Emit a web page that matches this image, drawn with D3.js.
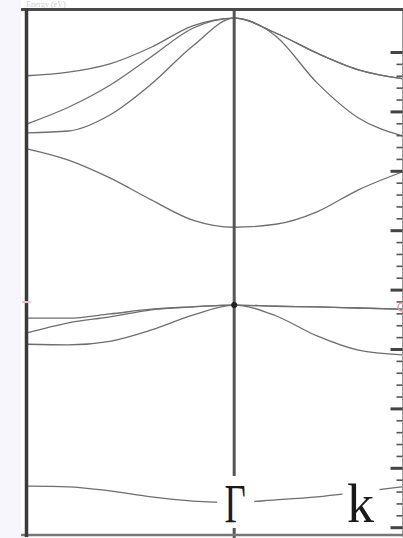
<!DOCTYPE html>
<html>
<head>
<meta charset="utf-8">
<script src="https://cdn.jsdelivr.net/npm/d3@7"></script>
<style>
  html, body { margin: 0; padding: 0; background: #fff; }
  svg { display: block; }
</style>
</head>
<body>
<svg width="403" height="538"></svg>
<script>
// k path: left point (-1) -> Gamma (0) -> k (0.81)
const kPoints = [-1, -0.8, -0.6, -0.4, -0.2, 0, 0.2, 0.4, 0.6, 0.81];

// band energies (eV) at each kPoint
const bandA = [3.60, 3.66, 3.80, 4.08, 4.44, 4.57, 4.32, 3.98, 3.70, 3.55];
const bandB = [2.79, 3.07, 3.44, 3.92, 4.40, 4.57, 4.27, 3.48, 2.89, 2.59];
const bandC = [2.64, 2.67, 2.94, 3.46, 4.10, 4.57, 4.32, 3.98, 3.70, 3.55];
const bandD = [2.37, 2.18, 1.88, 1.51, 1.17, 1.05, 1.10, 1.31, 1.68, 1.98];
const bandM1 = [-0.48, -0.48, -0.41, -0.33, -0.29, -0.26, -0.28, -0.29, -0.31, -0.33];
const bandM2 = [-0.73, -0.56, -0.46, -0.34, -0.29, -0.26, -0.28, -0.29, -0.31, -0.33];
const bandM3 = [-0.92, -0.93, -0.87, -0.68, -0.43, -0.26, -0.44, -0.78, -1.02, -1.10];
const bandL = [-3.31, -3.32, -3.39, -3.49, -3.56, -3.58, -3.54, -3.49, -3.41, -3.32];

const bands = [bandA, bandB, bandC, bandD, bandM1, bandM2, bandM3, bandL];

const kLabels = ["Γ", "k"];
const kLabelPos = [0, 0.6];
const fermiLevel = -0.26;

const svg = d3.select("svg");

const x = d3.scaleLinear().domain([-1, 0.81]).range([27, 402]);
const y = d3.scaleLinear().domain([4, -4]).range([52, 527.2]);

// page strip on the left
svg.append("rect").attr("x", 0).attr("y", 0).attr("width", 21).attr("height", 538).attr("fill", "#f6f6fc");

// faint title above the frame
svg.append("text")
  .attr("x", 26).attr("y", 7)
  .attr("font-family", "Liberation Serif").attr("font-size", 8)
  .attr("fill", "#cfcfcf")
  .text("Energy (eV)");

// bands
const line = d3.line()
  .x((d, i) => x(kPoints[i]))
  .y((d) => y(d))
  .curve(d3.curveMonotoneX);

svg.append("g")
  .selectAll("path")
  .data(bands)
  .join("path")
  .attr("d", line)
  .attr("fill", "none")
  .attr("stroke", "#6e6e6e")
  .attr("stroke-width", 1.3);

// Gamma vertical line
svg.append("line")
  .attr("x1", x(0)).attr("x2", x(0))
  .attr("y1", 8).attr("y2", 538)
  .attr("stroke", "#555").attr("stroke-width", 3);

// right axis with inward ticks
const rightAxis = svg.append("g").attr("transform", "translate(402.5,0)");
rightAxis.append("line")
  .attr("x1", 0).attr("x2", 0).attr("y1", 8).attr("y2", 537)
  .attr("stroke", "#999").attr("stroke-width", 1);
rightAxis.append("g")
  .call(d3.axisLeft(y).tickValues(d3.range(-4, 4.01, 0.2)).tickSize(6).tickFormat(""))
  .call((g) => g.select(".domain").remove())
  .call((g) => g.selectAll("line").attr("stroke", "#555").attr("stroke-width", 1.6));
rightAxis.append("g")
  .call(d3.axisLeft(y).tickValues(d3.range(-4, 5, 1)).tickSize(12).tickFormat(""))
  .call((g) => g.select(".domain").remove())
  .call((g) => g.selectAll("line").attr("stroke", "#444").attr("stroke-width", 3));

// frame
svg.append("line").attr("x1", 21).attr("x2", 403).attr("y1", 9.5).attr("y2", 9.5)
  .attr("stroke", "#4a4a4a").attr("stroke-width", 3);
svg.append("line").attr("x1", 21).attr("x2", 403).attr("y1", 535).attr("y2", 535)
  .attr("stroke", "#777").attr("stroke-width", 2.5);
svg.append("line").attr("x1", 26.5).attr("x2", 26.5).attr("y1", 8).attr("y2", 537)
  .attr("stroke", "#3a3a3a").attr("stroke-width", 3.5);

// fermi level marks
svg.append("circle").attr("cx", x(0)).attr("cy", y(fermiLevel)).attr("r", 3).attr("fill", "#222");
svg.append("circle").attr("cx", 402).attr("cy", y(fermiLevel) + 2).attr("r", 4)
  .attr("fill", "none").attr("stroke", "#e59aa8").attr("stroke-width", 1.5);
svg.append("line").attr("x1", 22).attr("x2", 31).attr("y1", y(fermiLevel) - 3).attr("y2", y(fermiLevel) - 3)
  .attr("stroke", "#f2c4cc").attr("stroke-width", 2);

// k-point labels
const labels = svg.append("g")
  .selectAll("g")
  .data(kLabels)
  .join("g")
  .attr("transform", (d, i) => `translate(${x(kLabelPos[i]) + (i === 0 ? 1 : 2)},522)`);

labels.append("rect")
  .attr("x", -18).attr("y", -46).attr("width", 37).attr("height", 52)
  .attr("fill", "#fff");

labels.append("text")
  .attr("text-anchor", "middle")
  .attr("font-family", "Liberation Serif")
  .attr("font-size", 54)
  .attr("fill", "#1a1a1a")
  .attr("transform", (d, i) => (i === 0 ? "scale(0.68,1)" : null))
  .text((d) => d);
</script>
</body>
</html>
